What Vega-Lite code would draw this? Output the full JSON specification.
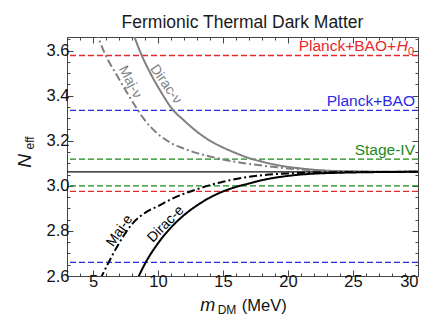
{
  "$schema": "https://vega.github.io/schema/vega-lite/v6.json",
  "autosize": {"type": "none"},
  "width": 351,
  "height": 239,
  "padding": {"left": 67, "top": 37, "right": 29, "bottom": 59},
  "background": "white",
  "title": {"text": "Fermionic Thermal Dark Matter", "fontSize": 17.5, "font": "Liberation Sans", "fontWeight": "normal", "color": "#1a1a1a", "offset": 5},
  "config": {"view": {"stroke": "#444", "strokeWidth": 1}, "font": "Liberation Sans"},
  "datasets": {
    "levels": [
      {"name": "Planck+BAO+H0", "value": 3.578, "set": "red"},
      {"name": "Planck+BAO+H0", "value": 2.975, "set": "red"},
      {"name": "Planck+BAO", "value": 3.335, "set": "blue"},
      {"name": "Planck+BAO", "value": 2.66, "set": "blue"},
      {"name": "Stage-IV", "value": 3.118, "set": "green"},
      {"name": "Stage-IV", "value": 3.0, "set": "green"}
    ],
    "curves": [
      {"s": "Dirac-ν", "x": 8.0, "y": 3.69},
      {"s": "Dirac-ν", "x": 8.7, "y": 3.585},
      {"s": "Dirac-ν", "x": 9.5, "y": 3.49},
      {"s": "Dirac-ν", "x": 10.3, "y": 3.41},
      {"s": "Dirac-ν", "x": 11.1, "y": 3.34},
      {"s": "Dirac-ν", "x": 12.0, "y": 3.29},
      {"s": "Dirac-ν", "x": 13.0, "y": 3.24},
      {"s": "Dirac-ν", "x": 14.0, "y": 3.2},
      {"s": "Dirac-ν", "x": 15.0, "y": 3.17},
      {"s": "Dirac-ν", "x": 16.0, "y": 3.145},
      {"s": "Dirac-ν", "x": 17.0, "y": 3.123},
      {"s": "Dirac-ν", "x": 18.0, "y": 3.107},
      {"s": "Dirac-ν", "x": 19.0, "y": 3.094},
      {"s": "Dirac-ν", "x": 20.0, "y": 3.084},
      {"s": "Dirac-ν", "x": 21.0, "y": 3.077},
      {"s": "Dirac-ν", "x": 22.0, "y": 3.071},
      {"s": "Dirac-ν", "x": 23.0, "y": 3.067},
      {"s": "Dirac-ν", "x": 24.0, "y": 3.065},
      {"s": "Dirac-ν", "x": 26.0, "y": 3.063},
      {"s": "Dirac-ν", "x": 28.0, "y": 3.062},
      {"s": "Dirac-ν", "x": 30.0, "y": 3.062},
      {"s": "Maj-ν", "x": 5.2, "y": 3.69},
      {"s": "Maj-ν", "x": 5.9, "y": 3.588},
      {"s": "Maj-ν", "x": 7.0, "y": 3.474},
      {"s": "Maj-ν", "x": 8.4, "y": 3.34},
      {"s": "Maj-ν", "x": 9.0, "y": 3.29},
      {"s": "Maj-ν", "x": 10.0, "y": 3.23},
      {"s": "Maj-ν", "x": 11.0, "y": 3.19},
      {"s": "Maj-ν", "x": 12.0, "y": 3.165},
      {"s": "Maj-ν", "x": 13.0, "y": 3.145},
      {"s": "Maj-ν", "x": 14.0, "y": 3.13},
      {"s": "Maj-ν", "x": 15.0, "y": 3.117},
      {"s": "Maj-ν", "x": 16.0, "y": 3.106},
      {"s": "Maj-ν", "x": 17.0, "y": 3.097},
      {"s": "Maj-ν", "x": 18.0, "y": 3.09},
      {"s": "Maj-ν", "x": 19.0, "y": 3.083},
      {"s": "Maj-ν", "x": 20.0, "y": 3.077},
      {"s": "Maj-ν", "x": 22.0, "y": 3.069},
      {"s": "Maj-ν", "x": 24.0, "y": 3.065},
      {"s": "Maj-ν", "x": 26.0, "y": 3.063},
      {"s": "Maj-ν", "x": 30.0, "y": 3.062},
      {"s": "Maj-e", "x": 5.55, "y": 2.585},
      {"s": "Maj-e", "x": 6.2, "y": 2.66},
      {"s": "Maj-e", "x": 7.0, "y": 2.745},
      {"s": "Maj-e", "x": 8.0, "y": 2.83},
      {"s": "Maj-e", "x": 9.0, "y": 2.88},
      {"s": "Maj-e", "x": 10.0, "y": 2.91},
      {"s": "Maj-e", "x": 11.0, "y": 2.94},
      {"s": "Maj-e", "x": 12.0, "y": 2.965},
      {"s": "Maj-e", "x": 13.0, "y": 2.985},
      {"s": "Maj-e", "x": 14.0, "y": 3.003},
      {"s": "Maj-e", "x": 15.0, "y": 3.018},
      {"s": "Maj-e", "x": 16.0, "y": 3.03},
      {"s": "Maj-e", "x": 17.0, "y": 3.04},
      {"s": "Maj-e", "x": 18.0, "y": 3.047},
      {"s": "Maj-e", "x": 19.0, "y": 3.052},
      {"s": "Maj-e", "x": 20.0, "y": 3.055},
      {"s": "Maj-e", "x": 22.0, "y": 3.059},
      {"s": "Maj-e", "x": 25.0, "y": 3.061},
      {"s": "Maj-e", "x": 30.0, "y": 3.062},
      {"s": "Dirac-e", "x": 8.4, "y": 2.585},
      {"s": "Dirac-e", "x": 9.1, "y": 2.665},
      {"s": "Dirac-e", "x": 10.0, "y": 2.745},
      {"s": "Dirac-e", "x": 11.0, "y": 2.815},
      {"s": "Dirac-e", "x": 12.0, "y": 2.87},
      {"s": "Dirac-e", "x": 13.0, "y": 2.913},
      {"s": "Dirac-e", "x": 14.0, "y": 2.948},
      {"s": "Dirac-e", "x": 15.0, "y": 2.975},
      {"s": "Dirac-e", "x": 16.0, "y": 2.995},
      {"s": "Dirac-e", "x": 17.0, "y": 3.01},
      {"s": "Dirac-e", "x": 18.0, "y": 3.025},
      {"s": "Dirac-e", "x": 19.0, "y": 3.036},
      {"s": "Dirac-e", "x": 20.0, "y": 3.044},
      {"s": "Dirac-e", "x": 21.0, "y": 3.05},
      {"s": "Dirac-e", "x": 22.0, "y": 3.054},
      {"s": "Dirac-e", "x": 24.0, "y": 3.058},
      {"s": "Dirac-e", "x": 27.0, "y": 3.061},
      {"s": "Dirac-e", "x": 30.0, "y": 3.062}
    ],
    "levelLabels": [
      {"label": "Planck+BAO", "x": 30, "y": 3.335, "set": "blue"},
      {"label": "Stage-IV", "x": 30, "y": 3.118, "set": "green"}
    ]
  },
  "resolve": {"axis": {"x": "independent", "y": "independent"}, "scale": {"color": "independent", "strokeDash": "independent"}},
  "layer": [
    {
      "data": {"name": "levels"},
      "mark": {"type": "rule", "strokeDash": [6, 3], "strokeWidth": 1.3},
      "encoding": {
        "y": {"field": "value", "type": "quantitative",
          "scale": {"domain": [2.6, 3.66], "nice": false, "zero": false},
          "axis": {"orient": "left", "title": null,
            "values": [2.6, 2.65, 2.7, 2.75, 2.8, 2.85, 2.9, 2.95, 3.0, 3.05, 3.1, 3.15, 3.2, 3.25, 3.3, 3.35, 3.4, 3.45, 3.5, 3.55, 3.6, 3.65],
            "labelExpr": "abs(datum.value*5 - round(datum.value*5)) < 0.001 ? format(datum.value, '.1f') : ''",
            "labelFontSize": 16.5, "labelColor": "#111", "labelPadding": 4, "domain": false, "grid": false,
            "tickColor": "#444",
            "tickSize": {"condition": {"test": "abs(datum.value*5 - round(datum.value*5)) < 0.001", "value": -6}, "value": -3}}},
        "color": {"field": "set", "type": "nominal",
          "scale": {"domain": ["red", "blue", "green"], "range": ["#e8282a", "#2a2ae6", "#1b8a1b"]}, "legend": null}
      }
    },
    {
      "data": {"values": [{"value": 3.062}]},
      "mark": {"type": "rule", "color": "#111", "strokeWidth": 1.4},
      "encoding": {
        "y": {"field": "value", "type": "quantitative",
          "axis": {"orient": "right", "title": null, "labels": false, "domain": false, "grid": false, "tickColor": "#444",
            "values": [2.6, 2.65, 2.7, 2.75, 2.8, 2.85, 2.9, 2.95, 3.0, 3.05, 3.1, 3.15, 3.2, 3.25, 3.3, 3.35, 3.4, 3.45, 3.5, 3.55, 3.6, 3.65],
            "tickSize": {"condition": {"test": "abs(datum.value*5 - round(datum.value*5)) < 0.001", "value": -6}, "value": -3}}}
      }
    },
    {
      "data": {"name": "curves"},
      "mark": {"type": "line", "strokeWidth": 2, "interpolate": "monotone", "clip": true},
      "encoding": {
        "x": {"field": "x", "type": "quantitative",
          "scale": {"domain": [3, 30], "nice": false, "zero": false},
          "axis": {"orient": "bottom", "title": null,
            "values": [3, 4, 5, 6, 7, 8, 9, 10, 11, 12, 13, 14, 15, 16, 17, 18, 19, 20, 21, 22, 23, 24, 25, 26, 27, 28, 29, 30],
            "labelExpr": "datum.value % 5 === 0 ? datum.label : ''",
            "labelFontSize": 16.5, "labelColor": "#111", "labelPadding": 3, "domain": false, "grid": false, "tickColor": "#444",
            "tickSize": {"condition": {"test": "datum.value % 5 === 0", "value": -6}, "value": -3}}},
        "y": {"field": "y", "type": "quantitative", "axis": null},
        "detail": {"field": "s"},
        "color": {"field": "s", "type": "nominal", "scale": {"domain": ["Dirac-ν", "Maj-ν", "Maj-e", "Dirac-e"], "range": ["#7f7f7f", "#7f7f7f", "#000000", "#000000"]}, "legend": null},
        "strokeDash": {"field": "s", "type": "nominal", "scale": {"domain": ["Dirac-ν", "Maj-ν", "Maj-e", "Dirac-e"], "range": [[1, 0], [8, 3, 2, 3], [8, 3, 2, 3], [1, 0]]}, "legend": null}
      }
    },
    {
      "data": {"values": [{"x": 3}]},
      "mark": {"type": "point", "opacity": 0},
      "encoding": {
        "x": {"field": "x", "type": "quantitative",
          "axis": {"orient": "top", "title": null, "labels": false, "domain": false, "grid": false, "tickColor": "#444",
            "values": [3, 4, 5, 6, 7, 8, 9, 10, 11, 12, 13, 14, 15, 16, 17, 18, 19, 20, 21, 22, 23, 24, 25, 26, 27, 28, 29, 30],
            "tickSize": {"condition": {"test": "datum.value % 5 === 0", "value": -6}, "value": -3}}}
      }
    },
    {
      "data": {"name": "levelLabels"},
      "mark": {"type": "text", "align": "right", "baseline": "bottom", "dx": -3, "dy": -1, "fontSize": 15.5, "font": "Liberation Sans"},
      "encoding": {
        "x": {"field": "x", "type": "quantitative", "axis": null},
        "y": {"field": "y", "type": "quantitative", "axis": null},
        "text": {"field": "label"},
        "color": {"field": "set", "type": "nominal", "scale": {"domain": ["red", "blue", "green"], "range": ["#e8282a", "#2a2ae6", "#1b8a1b"]}, "legend": null}
      }
    },
    {
      "data": {"values": [{"label": "Planck+BAO+", "x": 30, "y": 3.578}]},
      "mark": {"type": "text", "align": "right", "baseline": "bottom", "dx": -22, "dy": -1, "fontSize": 15.5, "font": "Liberation Sans", "color": "#e8282a"},
      "encoding": {"x": {"field": "x", "type": "quantitative", "axis": null}, "y": {"field": "y", "type": "quantitative", "axis": null}, "text": {"field": "label"}}
    },
    {
      "data": {"values": [{"label": "H", "x": 30, "y": 3.578}]},
      "mark": {"type": "text", "align": "right", "baseline": "bottom", "dx": -10, "dy": -1, "fontSize": 15.5, "fontStyle": "italic", "font": "Liberation Sans", "color": "#e8282a"},
      "encoding": {"x": {"field": "x", "type": "quantitative", "axis": null}, "y": {"field": "y", "type": "quantitative", "axis": null}, "text": {"field": "label"}}
    },
    {
      "data": {"values": [{"label": "0", "x": 30, "y": 3.578}]},
      "mark": {"type": "text", "align": "right", "baseline": "bottom", "dx": -4, "dy": 2, "fontSize": 11, "font": "Liberation Sans", "color": "#e8282a"},
      "encoding": {"x": {"field": "x", "type": "quantitative", "axis": null}, "y": {"field": "y", "type": "quantitative", "axis": null}, "text": {"field": "label"}}
    },
    {
      "data": {"values": [{"label": "Dirac-ν", "x": 10.6, "y": 3.45}]},
      "mark": {"type": "text", "angle": 55, "fontSize": 14, "color": "#7f7f7f", "font": "Liberation Sans"},
      "encoding": {"x": {"field": "x", "type": "quantitative", "axis": null}, "y": {"field": "y", "type": "quantitative", "axis": null}, "text": {"field": "label"}}
    },
    {
      "data": {"values": [{"label": "Maj-ν", "x": 7.85, "y": 3.46}]},
      "mark": {"type": "text", "angle": 62, "fontSize": 14, "color": "#7f7f7f", "font": "Liberation Sans"},
      "encoding": {"x": {"field": "x", "type": "quantitative", "axis": null}, "y": {"field": "y", "type": "quantitative", "axis": null}, "text": {"field": "label"}}
    },
    {
      "data": {"values": [{"label": "Maj-e", "x": 7.05, "y": 2.8}]},
      "mark": {"type": "text", "angle": -55, "fontSize": 14, "color": "#000", "font": "Liberation Sans"},
      "encoding": {"x": {"field": "x", "type": "quantitative", "axis": null}, "y": {"field": "y", "type": "quantitative", "axis": null}, "text": {"field": "label"}}
    },
    {
      "data": {"values": [{"label": "Dirac-e", "x": 10.6, "y": 2.83}]},
      "mark": {"type": "text", "angle": -45, "fontSize": 14, "color": "#000", "font": "Liberation Sans"},
      "encoding": {"x": {"field": "x", "type": "quantitative", "axis": null}, "y": {"field": "y", "type": "quantitative", "axis": null}, "text": {"field": "label"}}
    },
    {
      "data": {"values": [{"label": "N", "x": -0.25, "y": 3.11}]},
      "mark": {"type": "text", "angle": 270, "align": "center", "baseline": "middle", "fontSize": 19, "fontStyle": "italic", "color": "#111", "font": "Liberation Sans"},
      "encoding": {"x": {"field": "x", "type": "quantitative", "axis": null}, "y": {"field": "y", "type": "quantitative", "axis": null}, "text": {"field": "label"}}
    },
    {
      "data": {"values": [{"label": "eff", "x": 0.15, "y": 3.19}]},
      "mark": {"type": "text", "angle": 270, "align": "center", "baseline": "middle", "fontSize": 12, "color": "#111", "font": "Liberation Sans"},
      "encoding": {"x": {"field": "x", "type": "quantitative", "axis": null}, "y": {"field": "y", "type": "quantitative", "axis": null}, "text": {"field": "label"}}
    },
    {
      "data": {"values": [{"label": "m", "x": 13.82, "y": 2.445}]},
      "mark": {"type": "text", "align": "center", "baseline": "alphabetic", "fontSize": 18, "fontStyle": "italic", "color": "#111", "font": "Liberation Sans"},
      "encoding": {"x": {"field": "x", "type": "quantitative", "axis": null}, "y": {"field": "y", "type": "quantitative", "axis": null}, "text": {"field": "label"}}
    },
    {
      "data": {"values": [{"label": "DM", "x": 14.59, "y": 2.432}]},
      "mark": {"type": "text", "align": "left", "baseline": "alphabetic", "fontSize": 12, "color": "#111", "font": "Liberation Sans"},
      "encoding": {"x": {"field": "x", "type": "quantitative", "axis": null}, "y": {"field": "y", "type": "quantitative", "axis": null}, "text": {"field": "label"}}
    },
    {
      "data": {"values": [{"label": "(MeV)", "x": 16.44, "y": 2.445}]},
      "mark": {"type": "text", "align": "left", "baseline": "alphabetic", "fontSize": 16.5, "color": "#111", "font": "Liberation Sans"},
      "encoding": {"x": {"field": "x", "type": "quantitative", "axis": null}, "y": {"field": "y", "type": "quantitative", "axis": null}, "text": {"field": "label"}}
    }
  ]
}
